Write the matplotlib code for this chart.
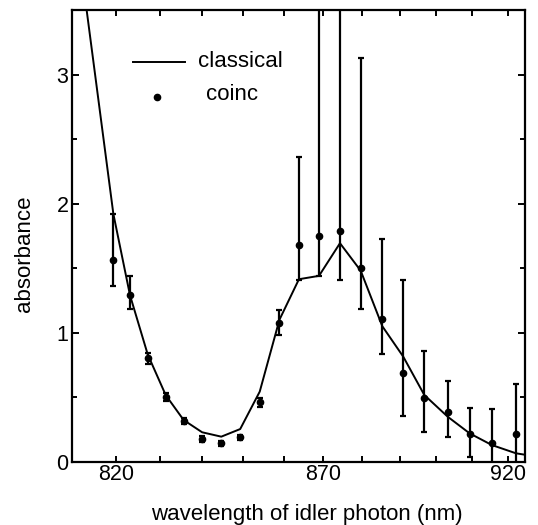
import numpy as np
import matplotlib
matplotlib.use("Agg")
import matplotlib.pyplot as plt
from matplotlib.ticker import FixedLocator, FixedFormatter

plt.rcParams['font.family'] = ['Liberation Sans', 'DejaVu Sans']

# ---- data ----
wavelength = [819.3, 823.1, 827.2, 831.4, 835.6, 840.0, 844.6, 849.2, 854.0,
              858.9, 863.8, 868.9, 874.3, 879.7, 885.4, 891.0, 896.7, 903.1,
              909.2, 915.5, 922.4]
coinc = [1.56, 1.29, 0.80, 0.50, 0.315, 0.176, 0.142, 0.189, 0.46,
         1.075, 1.68, 1.75, 1.79, 1.50, 1.106, 0.685, 0.491, 0.383,
         0.215, 0.147, 0.215]
err_low = [0.20, 0.11, 0.04, 0.03, 0.025, 0.02, 0.02, 0.02, 0.035,
           0.09, 0.27, 0.31, 0.38, 0.32, 0.27, 0.33, 0.26, 0.19,
           0.18, 0.25, 0.30]
err_high = [0.36, 0.15, 0.04, 0.03, 0.025, 0.02, 0.02, 0.02, 0.03,
            0.10, 0.68, 2.50, 2.50, 1.63, 0.62, 0.72, 0.37, 0.245,
            0.20, 0.26, 0.39]

classical_wl = [811.6, 819.3, 823.1, 827.2, 831.4, 835.6, 840.0, 844.6, 849.2,
                854.0, 858.9, 863.8, 868.9, 874.3, 879.7, 885.4, 891.0, 896.7,
                903.1, 909.2, 915.5, 922.4, 929.5]
classical = [3.94, 1.92, 1.29, 0.83, 0.515, 0.323, 0.228, 0.194, 0.253,
             0.543, 1.10, 1.414, 1.44, 1.693, 1.48, 1.05, 0.814, 0.517,
             0.349, 0.220, 0.129, 0.065, 0.035]

xticks = list(range(820, 921, 10))
xticklabels = ['820' if t == 820 else '870' if t == 870 else '920' if t == 920 else '' for t in xticks]
yticks = [0, 1, 2, 3]
yminor = [0.5, 1.5, 2.5]

# ---- figure ----
W, H = 538, 525
fig = plt.figure(figsize=(W / 100, H / 100), dpi=100)
ax = fig.add_axes([72 / W, 1 - 461.7 / H, (525 - 72) / W, (461.7 - 10) / H])


def fwd(x):
    x = np.clip(np.asarray(x, dtype=float), 1e-3, None)
    return -1.0 / x


def inv(y):
    y = np.clip(np.asarray(y, dtype=float), None, -1e-9)
    return -1.0 / y


ax.set_xlim(810, 925)
ax.set_xscale('function', functions=(fwd, inv))

ax.plot(classical_wl, classical, color='black', lw=1.4, zorder=3)
ax.errorbar(wavelength, coinc, yerr=[err_low, err_high], fmt='o', color='black',
            ms=4.5, elinewidth=1.6, capsize=2.5, capthick=1.6, zorder=4)

ax.set_xlim(810, 925)
ax.set_ylim(0, 3.5)

ax.xaxis.set_major_locator(FixedLocator(xticks))
ax.xaxis.set_major_formatter(FixedFormatter(xticklabels))
ax.xaxis.set_minor_locator(FixedLocator([]))
ax.yaxis.set_major_locator(FixedLocator(yticks))
ax.yaxis.set_minor_locator(FixedLocator(yminor))

ax.tick_params(axis='both', which='both', direction='in', top=True, right=True,
               width=1.4, labelsize=15.5)
ax.tick_params(axis='x', which='major', length=4.3, pad=2)
ax.tick_params(axis='y', which='major', length=5.0, pad=2.5)
ax.tick_params(axis='y', which='minor', length=3.4)

for s in ax.spines.values():
    s.set_linewidth(1.6)

ax.set_xlabel('wavelength of idler photon (nm)', fontsize=16)
ax.set_ylabel('absorbance', fontsize=16)
ax.xaxis.set_label_coords(0.518, -0.093)
ax.yaxis.set_label_coords(-0.081, 0.461)

# ---- legend (drawn manually to match the reference layout) ----
T = ax.transAxes
def px2ax(px, py):
    return ((px - 72) / 453.0, (461.7 - py) / 451.7)

a0 = px2ax(133.3, 61.7)
a1 = px2ax(185.0, 61.7)
ax.plot([a0[0], a1[0]], [a0[1], a1[1]], color='black', lw=1.4, transform=T, clip_on=False)
t0 = px2ax(198.3, 61.5)
ax.text(t0[0], t0[1], 'classical', transform=T, fontsize=16, va='center', ha='left')
d0 = px2ax(157.3, 96.7)
ax.plot([d0[0]], [d0[1]], 'o', color='black', ms=4.5, transform=T, clip_on=False)
t1 = px2ax(206.0, 94.0)
ax.text(t1[0], t1[1], 'coinc', transform=T, fontsize=16, va='center', ha='left')

fig.savefig('out.png', dpi=100)
